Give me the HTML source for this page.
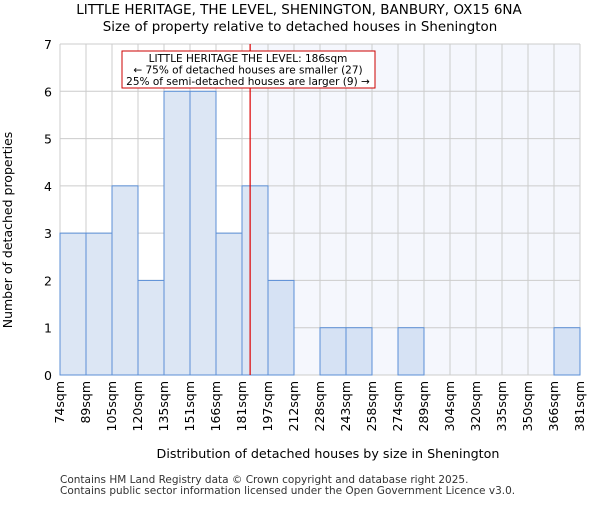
<!DOCTYPE html>
<html><head><meta charset="utf-8"><style>body{margin:0;background:#fff}svg{font-family:"DejaVu Sans","Liberation Sans",sans-serif}</style></head>
<body>
<svg id="c" width="600" height="500" xmlns="http://www.w3.org/2000/svg">
<text x="299" y="14" text-anchor="middle" font-size="13.5">LITTLE HERITAGE, THE LEVEL, SHENINGTON, BANBURY, OX15 6NA</text>
<text x="300" y="31" text-anchor="middle" font-size="13.4">Size of property relative to detached houses in Shenington</text>
<g id="plot"></g>
<text x="328" y="458" text-anchor="middle" font-size="12.7">Distribution of detached houses by size in Shenington</text>
<text transform="translate(12,230) rotate(-90)" text-anchor="middle" font-size="12.5">Number of detached properties</text>
<text x="60" y="483" font-size="10.5" fill="#333">Contains HM Land Registry data © Crown copyright and database right 2025.</text>
<text x="60" y="494" font-size="10.5" fill="#333">Contains public sector information licensed under the Open Government Licence v3.0.</text>
</svg>
<script>
const edges=[74,89,105,120,135,151,166,181,197,212,228,243,258,274,289,304,320,335,350,366,381];
const counts=[3,3,4,2,6,6,3,4,2,0,1,1,0,1,0,0,0,0,0,1];
const yTicks=[0,1,2,3,4,5,6,7];
const marker=186;
const annotation=["LITTLE HERITAGE THE LEVEL: 186sqm","← 75% of detached houses are smaller (27)","25% of semi-detached houses are larger (9) →"];
const L=60,R=580,T=44,B=375,yMax=7;
const NS="http://www.w3.org/2000/svg";
const g=document.getElementById('plot');
const xi=i=>L+(R-L)*i/(edges.length-1);
const xv=v=>{for(let i=0;i<edges.length-1;i++){if(v<=edges[i+1])return xi(i)+(xi(i+1)-xi(i))*(v-edges[i])/(edges[i+1]-edges[i]);}return R;};
const y=v=>B-(B-T)*v/yMax;
function mk(t,a){const e=document.createElementNS(NS,t);for(const k in a)e.setAttribute(k,a[k]);g.appendChild(e);return e;}
const mx=xv(marker);
let e=mk('rect',{x:mx,y:T,width:R-mx,height:B-T,fill:'#f5f7fd'});


yTicks.forEach(t=>{let l=mk('line',{x1:L,x2:R,y1:y(t),y2:y(t),stroke:'#ccc','stroke-width':1});


let tx=mk('text',{x:L-8,y:y(t)+5,'text-anchor':'end','font-size':12.5});tx.textContent=t;

});
edges.forEach((v,i)=>{let l=mk('line',{x1:xi(i),x2:xi(i),y1:T,y2:B,stroke:'#ccc','stroke-width':1});


let tx=mk('text',{transform:`translate(${xi(i)+4},${B+6}) rotate(-90)`,'text-anchor':'end','font-size':12.5});tx.textContent=v+'sqm';

});
counts.forEach((c,i)=>{if(!c)return;let r=mk('rect',{x:xi(i),y:y(c),width:xi(i+1)-xi(i),height:B-y(c),fill:xi(i)>=mx-1?'#d6e2f4':'#dce6f4',stroke:'#5b8fd6','stroke-width':1});

});
e=mk('line',{x1:mx,x2:mx,y1:T,y2:B,stroke:'#d00','stroke-width':1.2});


e=mk('rect',{x:122,y:51,width:253,height:37,fill:'#fff',stroke:'#c00','stroke-width':1});


annotation.forEach((s,i)=>{let t=mk('text',{x:248,y:62+i*11.5,'text-anchor':'middle','font-size':10.5});t.textContent=s;

});
</script>
</body></html>
